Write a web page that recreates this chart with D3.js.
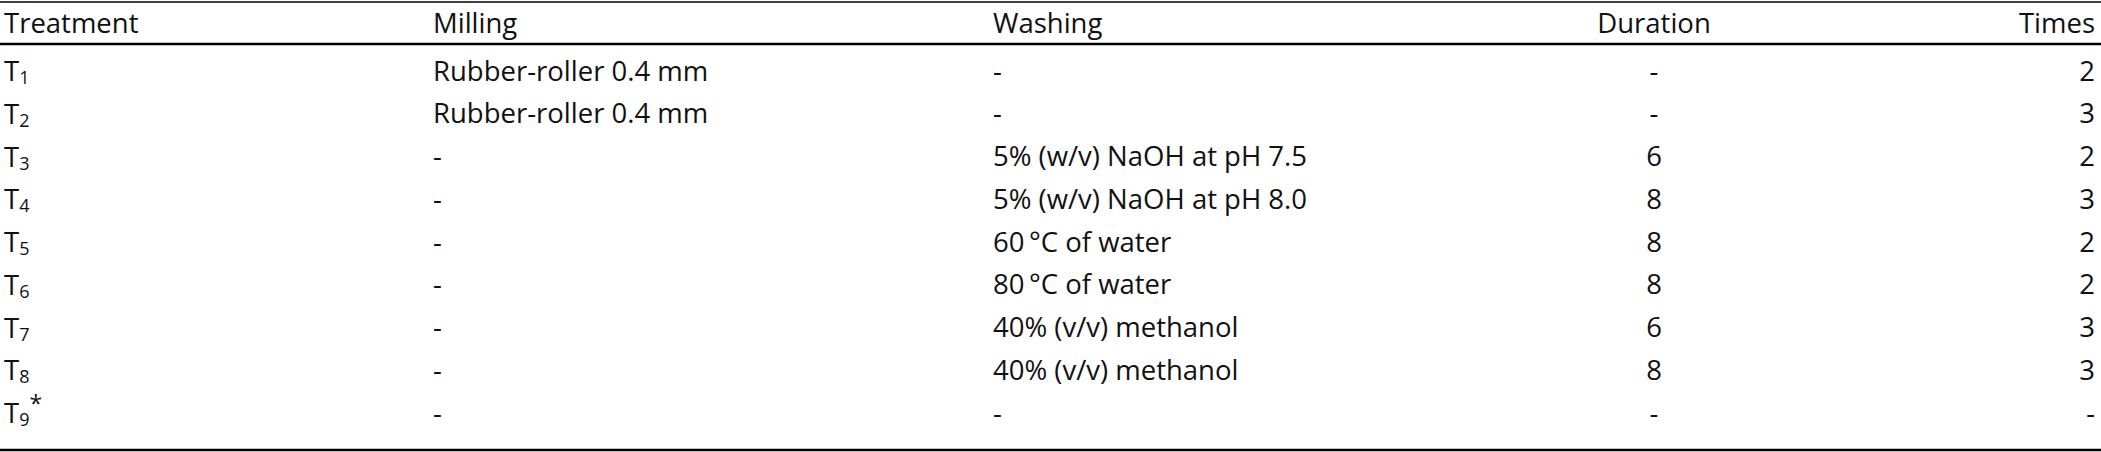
<!DOCTYPE html><html><head><meta charset="utf-8">
<script src="https://cdn.jsdelivr.net/npm/d3@7"></script>
<style>body{margin:0;background:#fff}</style></head><body>
<svg id="c" width="2101" height="452"></svg>
<script>
const headers=["Treatment","Milling","Washing","Duration","Times"];
const treatments=["1","2","3","4","5","6","7","8","9"];
const milling=["Rubber-roller 0.4 mm","Rubber-roller 0.4 mm","-","-","-","-","-","-","-"];
const washing=["-","-","5% (w/v) NaOH at pH 7.5","5% (w/v) NaOH at pH 8.0","60\u2009°C of water","80\u2009°C of water","40% (v/v) methanol","40% (v/v) methanol","-"];
const duration=["-","-","6","8","8","8","6","8","-"];
const times=["2","3","2","3","2","2","3","3","-"];

const svg=d3.select("#c");
const font="'Open Sans', sans-serif", fs=27.5;
const y=d3.scalePoint().domain(d3.range(treatments.length)).range([70,412]);
const colX=[4,433,993,1654,2095];
const anchors=["start","start","start","middle","end"];
svg.append("line").attr("x1",0).attr("x2",2101).attr("y1",2).attr("y2",2).attr("stroke","#000").attr("stroke-width",1.5);
svg.append("line").attr("x1",0).attr("x2",2101).attr("y1",44).attr("y2",44).attr("stroke","#000").attr("stroke-width",2.5);
svg.append("line").attr("x1",0).attr("x2",2101).attr("y1",450).attr("y2",450).attr("stroke","#000").attr("stroke-width",2.5);
const t=(x,yy,a)=>svg.append("text").attr("x",x).attr("y",yy).attr("text-anchor",a).attr("dominant-baseline","central").attr("font-family",font).attr("font-size",fs).attr("fill","#111");
headers.forEach((h,i)=>t(colX[i],22,anchors[i]).text(h));
treatments.forEach((d,i)=>{
  const tx=t(colX[0],y(i),"start");
  tx.append("tspan").text("T");
  tx.append("tspan").attr("font-size",18).attr("dy",7).text(d);
  if(d==="9") tx.append("tspan").attr("dy",-16).attr("font-size",23).text("*");
  t(colX[1],y(i),"start").text(milling[i]);
  t(colX[2],y(i),"start").text(washing[i]);
  t(colX[3],y(i),"middle").text(duration[i]);
  t(colX[4],y(i),"end").text(times[i]);
});
</script></body></html>
